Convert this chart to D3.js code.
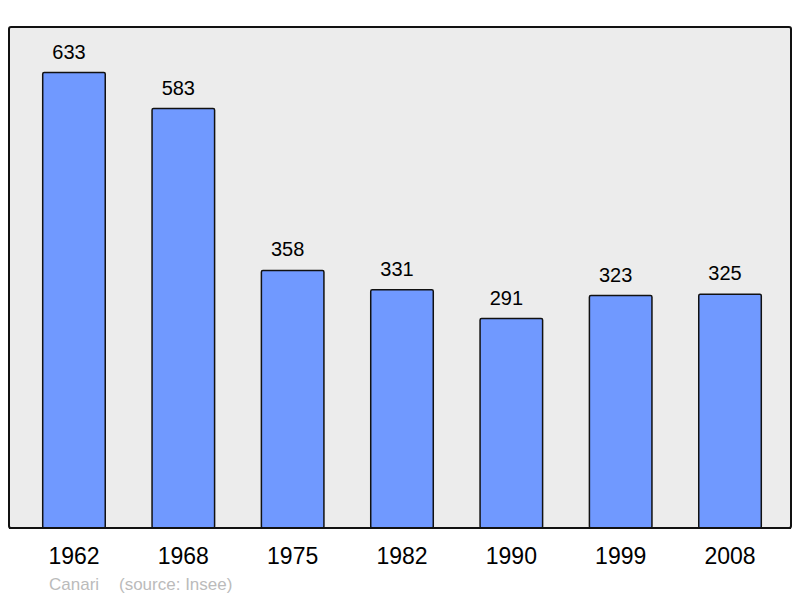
<!DOCTYPE html>
<html>
<head>
<meta charset="utf-8">
<style>
  body { margin: 0; background: #fff; }
  text { font-family: "Liberation Sans", Arial, sans-serif; }
</style>
</head>
<body>
<svg width="800" height="598"></svg>
<script src="https://d3js.org/d3.v7.min.js"></script>
<script>
var years = ["1962", "1968", "1975", "1982", "1990", "1999", "2008"];
var population = [633, 583, 358, 331, 291, 323, 325];

var svg = d3.select("svg"),
    panel = {left: 9, top: 27, right: 791, bottom: 528};

var x = d3.scaleBand()
    .domain(years)
    .range([panel.left + 2, panel.right + 2])
    .paddingInner(0.428)
    .paddingOuter(0.29);

var y = d3.scaleLinear()
    .domain([0, d3.max(population) * 1.1])
    .range([panel.bottom, panel.top]);

var data = years.map(function(d, i) { return {year: d, value: population[i]}; });

// background frame
svg.append("rect")
    .attr("x", panel.left)
    .attr("y", panel.top)
    .attr("width", panel.right - panel.left)
    .attr("height", panel.bottom - panel.top)
    .attr("rx", 2)
    .attr("fill", "#ececec")
    .attr("stroke", "#111")
    .attr("stroke-width", 2);

svg.append("g")
  .selectAll("rect")
  .data(data)
  .enter().append("rect")
    .attr("x", function(d) { return x(d.year); })
    .attr("y", function(d) { return y(d.value); })
    .attr("width", x.bandwidth())
    .attr("height", function(d) { return panel.bottom - y(d.value); })
    .attr("rx", 1.5)
    .attr("fill", "#7099ff")
    .attr("stroke", "#111")
    .attr("stroke-width", 1.5);

// redraw bottom edge on top of the bars
svg.append("line")
    .attr("x1", panel.left).attr("x2", panel.right)
    .attr("y1", panel.bottom).attr("y2", panel.bottom)
    .attr("stroke", "#111")
    .attr("stroke-width", 2);

// value labels sit a little left of the bar centre, as in the original
svg.append("g")
  .selectAll("text")
  .data(data)
  .enter().append("text")
    .attr("x", function(d) { return x(d.year) + x.bandwidth() / 2 - 5; })
    .attr("y", function(d) { return y(d.value) - 14; })
    .attr("text-anchor", "middle")
    .attr("font-size", 20)
    .attr("fill", "#000")
    .text(function(d) { return d.value; });

var xAxis = svg.append("g")
    .attr("transform", "translate(0," + panel.bottom + ")")
    .call(d3.axisBottom(x).tickSize(0).tickPadding(20));
xAxis.select(".domain").remove();
xAxis.selectAll("text")
    .attr("font-family", "Liberation Sans, Arial, sans-serif")
    .attr("font-size", 23)
    .attr("fill", "#000");

svg.append("text")
    .attr("x", 49)
    .attr("y", 590)
    .attr("font-size", 17)
    .attr("fill", "#bbb")
    .text("Canari");

svg.append("text")
    .attr("x", 119)
    .attr("y", 590)
    .attr("font-size", 17)
    .attr("fill", "#bbb")
    .text("(source: Insee)");
</script>
</body>
</html>
